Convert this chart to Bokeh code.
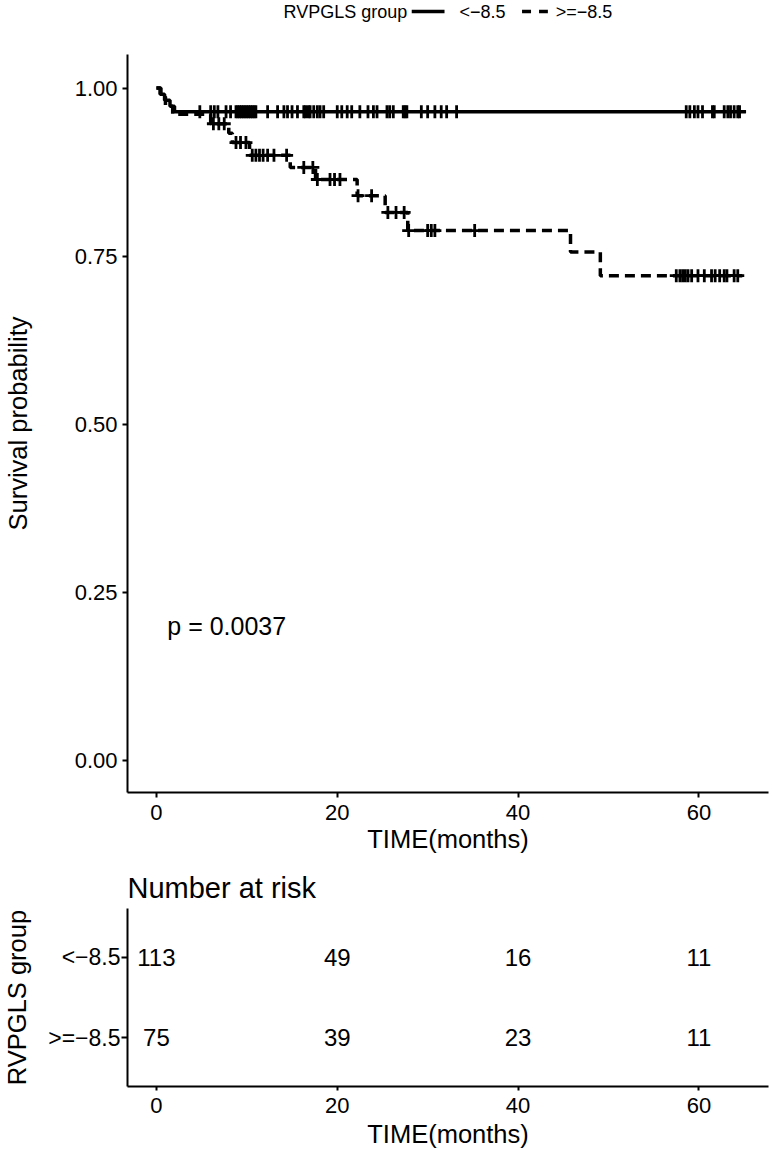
from bokeh.plotting import figure
from bokeh.layouts import column
from bokeh.models import Range1d, FixedTicker, NumeralTickFormatter, FactorRange, ColumnDataSource
from bokeh.core.properties import value
from bokeh.embed import file_html
from bokeh.resources import INLINE

FONT = "Liberation Sans"

# ---------------- data ----------------
groups = ["<\u22128.5", ">=\u22128.5"]
legend_title = "RVPGLS group"

# Kaplan-Meier step curves (time in months, survival probability)
t_low = [0, 0.4, 0.9, 1.5, 2.0, 65.2]
s_low = [1.0, 0.991, 0.982, 0.973, 0.965, 0.965]
cens_low = [4.8, 6.0, 6.4, 6.8, 7.7, 8.2, 8.8, 9.0, 9.2, 9.4, 9.6, 9.8, 10.0, 10.2,
            10.4, 10.6, 10.8, 11.0, 12.3, 13.4, 14.1, 14.5, 15.0, 15.6, 16.3, 16.5,
            16.8, 17.0, 17.4, 17.8, 18.1, 18.5, 20.0, 20.5, 21.1, 21.6, 22.5, 23.4,
            24.0, 24.4, 25.5, 25.8, 26.2, 27.3, 27.5, 27.7, 29.3, 30.0, 30.8, 31.5,
            32.1, 33.2, 58.6, 59.0, 59.5, 59.9, 60.4, 61.5, 61.7, 62.8, 63.2, 63.5,
            63.9, 64.3, 64.5]

t_high = [0, 0.5, 1.0, 1.8, 6.0, 8.0, 8.4, 10.3, 14.8, 17.6, 22.2, 25.3, 27.8,
          45.8, 49.1, 64.8]
s_high = [1.0, 0.987, 0.973, 0.961, 0.947, 0.933, 0.919, 0.900, 0.882, 0.864,
          0.840, 0.815, 0.788, 0.756, 0.721, 0.721]
cens_high = [6.3, 6.9, 7.5, 8.8, 9.3, 9.9, 10.6, 11.0, 11.4, 11.8, 12.3, 13.0, 14.4,
             16.3, 17.3, 17.8, 19.2, 19.7, 20.3, 22.3, 23.8, 25.6, 26.5, 27.4, 27.9,
             30.0, 30.4, 30.8, 35.2, 57.5, 57.9, 58.2, 58.5, 58.8, 59.2, 59.9, 60.6,
             61.4, 61.8, 62.3, 62.8, 63.1, 63.9, 64.3]

risk_times = [0, 20, 40, 60]
risk_low = [113, 49, 16, 11]
risk_high = [75, 39, 23, 11]

y_ticks = [0, 0.25, 0.5, 0.75, 1.0]
pval_text = "p = 0.0037"


def surv_at(ts, ss, t):
    s = ss[0]
    for ti, si in zip(ts, ss):
        if ti <= t:
            s = si
    return s


W = 772
X_OFF = 3          # observed horizontal page offset of the layout
LEFT = 123
RIGHT = 4
X_RANGE = (-3.2, 67.7)


def style_axis(ax, tick_size, label_size):
    ax.axis_line_width = 2
    ax.axis_line_color = "black"
    ax.major_tick_line_width = 2
    ax.major_tick_line_color = "black"
    ax.major_tick_out = 5
    ax.major_tick_in = 0
    ax.minor_tick_line_color = None
    ax.major_label_text_font = FONT
    ax.major_label_text_font_size = tick_size
    ax.major_label_text_color = "black"
    ax.axis_label_text_font = FONT
    ax.axis_label_text_font_size = label_size
    ax.axis_label_text_font_style = "normal"
    ax.axis_label_text_color = "black"


# ---------------- legend strip (page pixel coordinates) ----------------
LEG_H = 30
leg = figure(width=W, height=LEG_H,
             x_range=Range1d(LEFT + X_OFF, W - RIGHT + X_OFF), y_range=Range1d(0, LEG_H),
             x_axis_type=None, y_axis_type=None, output_backend="svg",
             toolbar_location=None, min_border_left=LEFT, min_border_right=RIGHT,
             min_border_top=0, min_border_bottom=0)
leg.outline_line_color = None
leg.grid.visible = False
ly = LEG_H - 11
leg_font = dict(text_font=value(FONT), text_font_size="18px", text_baseline="middle",
                text_align="left", text_color="black")
leg.text(x=[283], y=[ly], text=[legend_title], **leg_font)
leg.segment(x0=[412], y0=[ly], x1=[445], y1=[ly], line_color="black", line_width=3.5)
leg.text(x=[460], y=[ly], text=[groups[0]], **leg_font)
leg.segment(x0=[523], y0=[ly], x1=[549], y1=[ly], line_color="black", line_width=3.5,
            line_dash="9 8")
leg.text(x=[557], y=[ly], text=[groups[1]], **leg_font)

# ---------------- main survival plot ----------------
p = figure(width=W, height=828, x_range=Range1d(*X_RANGE), y_range=Range1d(-0.048, 1.05),
           output_backend="svg", toolbar_location=None,
           min_border_left=LEFT, min_border_right=RIGHT, min_border_top=24, min_border_bottom=66)
p.outline_line_color = None
p.grid.visible = False

p.step(t_low, s_low, mode="after", line_color="black", line_width=3.5)
p.step(t_high, s_high, mode="after", line_color="black", line_width=3.5, line_dash="10 6")
p.scatter(cens_low, [surv_at(t_low, s_low, t) for t in cens_low], marker="cross",
          size=13, line_color="black", line_width=2.8)
p.scatter(cens_high, [surv_at(t_high, s_high, t) for t in cens_high], marker="cross",
          size=13, line_color="black", line_width=2.8)
p.text(x=[1.2], y=[0.2], text=[pval_text], text_font=value(FONT), text_font_size="25px",
       text_baseline="middle", text_align="left", text_color="black")

p.xaxis.ticker = FixedTicker(ticks=risk_times)
p.yaxis.ticker = FixedTicker(ticks=y_ticks)
p.yaxis.formatter = NumeralTickFormatter(format="0.00")
p.xaxis.axis_label = "TIME(months)"
p.yaxis.axis_label = "Survival probability"
style_axis(p.xaxis[0], "22px", "25.5px")
style_axis(p.yaxis[0], "22px", "25.5px")
p.xaxis.major_label_standoff = 7
p.xaxis.axis_label_standoff = 2
p.yaxis.major_label_standoff = 5
p.yaxis.axis_label_standoff = 40

# ---------------- risk table ----------------
r = figure(width=W, height=292, x_range=Range1d(*X_RANGE),
           y_range=FactorRange(factors=[groups[1], groups[0]], range_padding=0.1,
                               range_padding_units="absolute"),
           output_backend="svg", toolbar_location=None,
           min_border_left=LEFT, min_border_right=RIGHT, min_border_top=50, min_border_bottom=61)
r.outline_line_color = None
r.grid.visible = False
src = ColumnDataSource(dict(
    x=risk_times + risk_times,
    y=[groups[0]] * len(risk_times) + [groups[1]] * len(risk_times),
    t=[str(v) for v in risk_low] + [str(v) for v in risk_high],
))
r.text(x="x", y="y", text="t", source=src, text_font=value(FONT), text_font_size="24px",
       text_baseline="middle", text_align="center", text_color="black")
r.title.text = "Number at risk"
r.title.text_font = FONT
r.title.text_font_size = "29px"
r.title.text_font_style = "normal"
r.title.text_color = "black"
r.title.standoff = 10
r.xaxis.ticker = FixedTicker(ticks=risk_times)
r.xaxis.axis_label = "TIME(months)"
r.yaxis.axis_label = legend_title
style_axis(r.xaxis[0], "22px", "25.5px")
style_axis(r.yaxis[0], "23px", "25.5px")
r.xaxis.major_tick_out = 4
r.xaxis.major_label_standoff = 7
r.xaxis.axis_label_standoff = 4
r.yaxis.major_tick_out = 6
r.yaxis.major_label_standoff = 1
r.yaxis.axis_label_standoff = 14

layout = column(leg, p, r, spacing=0)
open("out.html", "w").write(file_html(layout, INLINE))
